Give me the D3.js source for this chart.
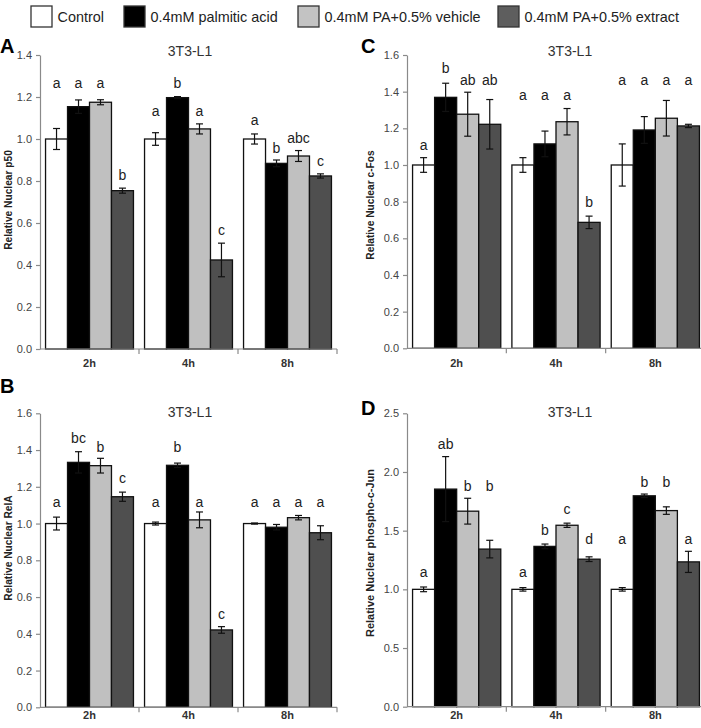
<!DOCTYPE html>
<html><head><meta charset="utf-8">
<script src="https://cdn.jsdelivr.net/npm/d3@7"></script>
<style>
body{margin:0;background:#fff}
svg{display:block}
text{font-family:"Liberation Sans",Arial,Helvetica,sans-serif}
</style>
</head><body>
<svg id="chart" width="701" height="728"></svg>
<script>
// ---------------- DATA ----------------
const categories = ["2h", "4h", "8h"];
const seriesNames = ["Control", "0.4mM palmitic acid", "0.4mM PA+0.5% vehicle", "0.4mM PA+0.5% extract"];

// rows = series (Control, palmitic, vehicle, extract); columns = 2h, 4h, 8h
const p50Mean = [[1.0, 1.0, 1.0], [1.154, 1.197, 0.884], [1.175, 1.048, 0.919], [0.754, 0.424, 0.824]];
const p50Err  = [[0.05, 0.03, 0.024], [0.032, 0.005, 0.016], [0.012, 0.024, 0.026], [0.012, 0.08, 0.01]];
const p50Letters = [["a", "a", "a"], ["a", "b", "b"], ["a", "a", "abc"], ["b", "c", "c"]];
const p50LetterLevel = [[1.241, 1.11, 1.067], [1.241, 1.241, 0.935], [1.241, 1.11, 0.983], [0.805, 0.543, 0.871]];
const p50Ticks = [0.0, 0.2, 0.4, 0.6, 0.8, 1.0, 1.2, 1.4];

const cfosMean = [[1.0, 1.0, 1.0], [1.369, 1.115, 1.191], [1.277, 1.236, 1.255], [1.222, 0.687, 1.213]];
const cfosErr  = [[0.04, 0.04, 0.115], [0.077, 0.07, 0.073], [0.12, 0.072, 0.097], [0.135, 0.034, 0.009]];
const cfosLetters = [["a", "a", "a"], ["b", "a", "a"], ["ab", "a", "a"], ["ab", "b", "a"]];
const cfosLetterLevel = [[1.08, 1.353, 1.436], [1.5, 1.353, 1.436], [1.436, 1.353, 1.436], [1.436, 0.77, 1.436]];
const cfosTicks = [0.0, 0.2, 0.4, 0.6, 0.8, 1.0, 1.2, 1.4, 1.6];

const relaMean = [[1.0, 1.0, 1.0], [1.333, 1.317, 0.98], [1.315, 1.02, 1.032], [1.146, 0.421, 0.95]];
const relaErr  = [[0.035, 0.008, 0.003], [0.058, 0.012, 0.015], [0.04, 0.043, 0.012], [0.025, 0.018, 0.038]];
const relaLetters = [["a", "a", "a"], ["bc", "b", "a"], ["b", "a", "a"], ["c", "c", "a"]];
const relaLetterLevel = [[1.092, 1.092, 1.092], [1.44, 1.391, 1.092], [1.391, 1.092, 1.092], [1.219, 0.481, 1.092]];
const relaTicks = [0.0, 0.2, 0.4, 0.6, 0.8, 1.0, 1.2, 1.4, 1.6];

const cjunMean = [[1.0, 1.0, 1.0], [1.854, 1.366, 1.797], [1.666, 1.546, 1.671], [1.343, 1.257, 1.234]];
const cjunErr  = [[0.02, 0.015, 0.015], [0.277, 0.02, 0.015], [0.11, 0.018, 0.032], [0.075, 0.02, 0.09]];
const cjunLetters = [["a", "a", "a"], ["ab", "b", "b"], ["b", "c", "b"], ["b", "d", "a"]];
const cjunLetterLevel = [[1.106, 1.106, 1.386], [2.2, 1.463, 1.875], [1.84, 1.64, 1.875], [1.84, 1.386, 1.386]];
const cjunTicks = [0.0, 0.5, 1.0, 1.5, 2.0, 2.5];

// ---------------- STYLE / LAYOUT ----------------
const seriesFill = ["#ffffff", "#000000", "#c0c0c0", "#4f4f4f"];
const legendFill = ["#ffffff", "#000000", "#c3c3c3", "#5e5e5e"];
const legendX = [31, 124, 298, 498];

const panels = [
  {tag: "A", mean: p50Mean, err: p50Err, letters: p50Letters, lvl: p50LetterLevel, ticks: p50Ticks,
   yTitle: "Relative Nuclear p50", left: 40, right: 337, top: 55, bottom: 349,
   titleX: 190, titleY: 51, yTitleX: 8, yTitleY: 200, yTitleSize: 10.2, tagX: 0, tagY: 53, catY: 367},
  {tag: "C", mean: cfosMean, err: cfosErr, letters: cfosLetters, lvl: cfosLetterLevel, ticks: cfosTicks,
   yTitle: "Relative Nuclear c-Fos", left: 407, right: 705, top: 55, bottom: 348.3,
   titleX: 570, titleY: 51, yTitleX: 370, yTitleY: 205, yTitleSize: 10.2, tagX: 361, tagY: 53, catY: 367},
  {tag: "B", mean: relaMean, err: relaErr, letters: relaLetters, lvl: relaLetterLevel, ticks: relaTicks,
   yTitle: "Relative Nuclear RelA", left: 40, right: 337, top: 413.3, bottom: 707.3,
   titleX: 190, titleY: 412, yTitleX: 8, yTitleY: 548, yTitleSize: 10.2, tagX: 0, tagY: 393, catY: 719},
  {tag: "D", mean: cjunMean, err: cjunErr, letters: cjunLetters, lvl: cjunLetterLevel, ticks: cjunTicks,
   yTitle: "Relative Nuclear phospho-c-Jun", left: 407, right: 705, top: 413.3, bottom: 706.7,
   titleX: 570, titleY: 412, yTitleX: 370, yTitleY: 553, yTitleSize: 11, tagX: 361, tagY: 415, catY: 719}
];

const svg = d3.select("#chart");
svg.append("rect").attr("width", 701).attr("height", 728).attr("fill", "#fff");

// ---------------- LEGEND ----------------
const leg = svg.append("g");
seriesNames.forEach((name, i) => {
  leg.append("rect").attr("x", legendX[i]).attr("y", 6).attr("width", 21).attr("height", 21)
    .attr("fill", legendFill[i]).attr("stroke", "#333").attr("stroke-width", 1.3);
  leg.append("text").attr("x", legendX[i] + 26.5).attr("y", 21.5)
    .attr("font-size", 14.4).attr("fill", "#222").text(name);
});

// ---------------- PANELS ----------------
panels.forEach(p => {
  const g = svg.append("g");
  const yMax = p.ticks[p.ticks.length - 1];
  const y = d3.scaleLinear().domain([0, yMax]).range([p.bottom, p.top]);
  const x0 = d3.scaleBand().domain(categories).range([p.left, p.right]).padding(0);
  const pad = x0.bandwidth() * 0.056;
  const x1 = d3.scaleBand().domain(d3.range(seriesNames.length)).range([pad, x0.bandwidth() - pad]).padding(0);

  // bars
  seriesNames.forEach((s, si) => {
    categories.forEach((c, ci) => {
      const v = p.mean[si][ci];
      g.append("rect")
        .attr("x", x0(c) + x1(si)).attr("y", y(v))
        .attr("width", x1.bandwidth()).attr("height", y(0) - y(v))
        .attr("fill", seriesFill[si]).attr("stroke", "#111").attr("stroke-width", 1.3);
    });
  });

  // y axis
  const yAxis = d3.axisLeft(y).tickValues(p.ticks).tickFormat(d3.format(".1f"))
    .tickSize(4).tickSizeOuter(0).tickPadding(4);
  const ya = g.append("g").attr("transform", `translate(${p.left},0)`).call(yAxis);
  ya.select(".domain").attr("stroke", "#8a8a8a").attr("stroke-width", 1.2);
  ya.selectAll(".tick line").attr("stroke", "#8a8a8a").attr("stroke-width", 1.2);
  ya.selectAll(".tick text").attr("font-size", 11).attr("fill", "#444")
    .attr("font-family", "'Liberation Sans', Arial, sans-serif");

  // x axis: baseline + boundary ticks
  g.append("line").attr("x1", p.left).attr("x2", p.right).attr("y1", y(0)).attr("y2", y(0))
    .attr("stroke", "#8a8a8a").attr("stroke-width", 1.2);
  const bounds = categories.map(c => x0(c)).concat([x0.range()[1]]);
  bounds.slice(1).forEach(bx => {
    g.append("line").attr("x1", bx).attr("x2", bx).attr("y1", y(0)).attr("y2", y(0) + 5)
      .attr("stroke", "#8a8a8a").attr("stroke-width", 1.2);
  });
  categories.forEach(c => {
    g.append("text").attr("x", x0(c) + x0.bandwidth() / 2).attr("y", p.catY)
      .attr("text-anchor", "middle").attr("font-size", 11).attr("font-weight", "bold")
      .attr("fill", "#333").text(c);
  });

  // error bars
  seriesNames.forEach((s, si) => {
    categories.forEach((c, ci) => {
      const v = p.mean[si][ci], e = p.err[si][ci];
      const cx = x0(c) + x1(si) + x1.bandwidth() / 2;
      const eg = g.append("g").attr("stroke", "#111").attr("stroke-width", 1.2);
      eg.append("line").attr("x1", cx).attr("x2", cx).attr("y1", y(v + e)).attr("y2", y(v - e));
      eg.append("line").attr("x1", cx - 3.5).attr("x2", cx + 3.5).attr("y1", y(v + e)).attr("y2", y(v + e));
      eg.append("line").attr("x1", cx - 3.5).attr("x2", cx + 3.5).attr("y1", y(v - e)).attr("y2", y(v - e));
    });
  });

  // significance letters
  seriesNames.forEach((s, si) => {
    categories.forEach((c, ci) => {
      const cx = x0(c) + x1(si) + x1.bandwidth() / 2;
      g.append("text").attr("x", cx).attr("y", y(p.lvl[si][ci]))
        .attr("text-anchor", "middle").attr("font-size", 14).attr("fill", "#222")
        .text(p.letters[si][ci]);
    });
  });

  // panel title
  g.append("text").attr("x", p.titleX).attr("y", p.titleY).attr("dy", "0.35em")
    .attr("text-anchor", "middle").attr("font-size", 14).attr("fill", "#333").text("3T3-L1");

  // y title
  g.append("text").attr("transform", `translate(${p.yTitleX},${p.yTitleY}) rotate(-90)`)
    .attr("dy", "0.35em").attr("text-anchor", "middle").attr("font-size", p.yTitleSize)
    .attr("font-weight", "bold").attr("fill", "#222").text(p.yTitle);

  // panel tag
  g.append("text").attr("x", p.tagX).attr("y", p.tagY).attr("font-size", 20)
    .attr("font-weight", "bold").attr("fill", "#000").text(p.tag);
});
</script>
</body></html>
